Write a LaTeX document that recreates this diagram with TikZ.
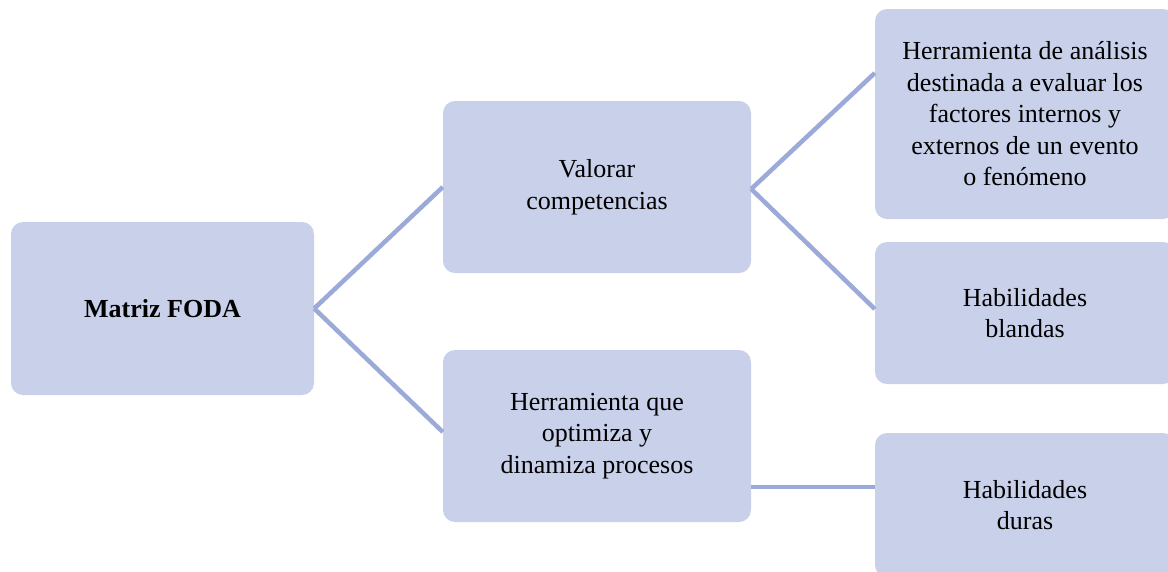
\documentclass[tikz,border=0pt]{standalone}
\usepackage{fontspec}
\setmainfont{Liberation Serif}
\usetikzlibrary{calc}
\definecolor{boxfill}{HTML}{C8D0EA}
\definecolor{linkcol}{HTML}{9BAAD8}
\tikzset{
  card/.style={fill=boxfill, draw=none, rounded corners=12pt, align=center,
    inner sep=0pt, font=\fontsize{26}{31.5}\selectfont, text=black},
  link/.style={draw=linkcol, line width=4.5pt}
}
\begin{document}
\begin{tikzpicture}[x=1pt,y=-1pt]
\useasboundingbox (0,0) rectangle (1168,571);
\begin{scope}
\clip (0,0) rectangle (1168,571);
\node[card, minimum width=303pt, minimum height=173pt] (root) at (162.5,308.5) {\textbf{Matriz FODA}};
\node[card, minimum width=308pt, minimum height=172pt] (val) at (597,187) {Valorar\\competencias};
\node[card, minimum width=308pt, minimum height=172pt] (hq) at (597,436) {Herramienta que\\optimiza y\\dinamiza procesos};
\node[card, minimum width=300pt, minimum height=210pt] (hda) at (1025,114) {Herramienta de análisis\\destinada a evaluar los\\factores internos y\\externos de un evento\\o fenómeno};
\node[card, minimum width=300pt, minimum height=142pt] (bla) at (1025,313) {Habilidades\\blandas};
\node[card, minimum width=300pt, minimum height=144pt] (dur) at (1025,505) {Habilidades\\duras};
\coordinate (j) at ([yshift=-51pt]hq.east);
\draw[link] (root.east) -- (val.west);
\draw[link] (root.east) -- ([yshift=4pt]hq.west);
\draw[link] ([yshift=-2pt]val.east) -- ([yshift=41pt]hda.west);
\draw[link] ([yshift=-2pt]val.east) -- ([yshift=4pt]bla.west);
\draw[link] (j) -- (j -| dur.west);
\end{scope}
\end{tikzpicture}
\end{document}
